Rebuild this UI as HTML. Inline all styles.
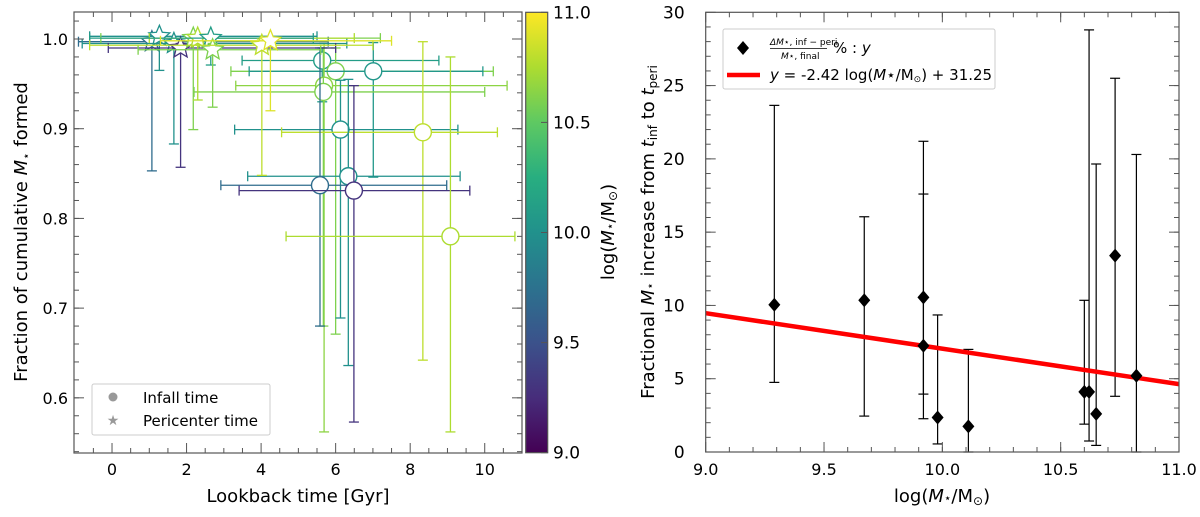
<!DOCTYPE html>
<html><head><meta charset="utf-8"><style>
html,body{margin:0;padding:0;background:#fff;}
svg{display:block;font-family:"DejaVu Sans","Liberation Sans",sans-serif;}
</style></head><body>
<svg id="fig" width="1200" height="517" viewBox="0 0 1200 517" xmlns="http://www.w3.org/2000/svg">
<defs>
<linearGradient id="vir" x1="0" y1="1" x2="0" y2="0">
<stop offset="0" stop-color="#440154"/><stop offset="0.125" stop-color="#472d7b"/><stop offset="0.25" stop-color="#3b528b"/><stop offset="0.375" stop-color="#2c728e"/><stop offset="0.5" stop-color="#21918c"/><stop offset="0.625" stop-color="#28ae80"/><stop offset="0.75" stop-color="#5ec962"/><stop offset="0.875" stop-color="#addc30"/><stop offset="1" stop-color="#fde725"/>
</linearGradient>
</defs>
<g id="left"></g>
<g id="cbar"></g>
<g id="right"></g>
</svg>
<script>
// ---- Left panel data ----
const infallT = [5.64, 6.0, 7.01, 5.69, 5.67, 6.13, 8.34, 6.34, 5.58, 6.49, 9.08];
const infallF = [0.976, 0.964, 0.964, 0.948, 0.941, 0.899, 0.896, 0.847, 0.837, 0.831, 0.780];
const infallTlo = [3.49, 3.19, 3.68, 3.32, 2.2, 3.29, 4.55, 3.64, 2.92, 3.41, 4.67];
const infallThi = [8.77, 10.23, 9.95, 10.6, 10.0, 9.28, 10.34, 9.34, 8.98, 9.6, 10.81];
const infallFlo = [0.93, 0.671, 0.846, 0.562, 0.68, 0.689, 0.642, 0.636, 0.680, 0.573, 0.562];
const infallFhi = [0.99, 0.99, 0.996, 0.995, 0.99, 0.954, 0.997, 0.955, 0.99, 0.948, 0.980];
const infallM = [10.1, 10.6, 10.05, 10.65, 10.6, 10.0, 10.8, 10.0, 9.7, 9.3, 10.75];

const periT = [1.07, 1.27, 1.66, 1.84, 2.18, 2.3, 2.65, 2.70, 4.02, 4.25];
const periF = [0.997, 1.003, 0.995, 0.990, 1.001, 1.001, 1.001, 0.988, 0.993, 0.998];
const periTlo = [-0.9, -0.6, -0.8, -0.1, -0.3, 1.0, -0.6, 0.7, -0.6, 1.3];
const periThi = [5.8, 5.5, 6.3, 6.0, 7.2, 6.5, 5.4, 5.6, 7.0, 7.5];
const periFlo = [0.853, 0.965, 0.883, 0.857, 0.899, 0.932, 0.971, 0.924, 0.848, 0.92];
const periFhi = [1.0, 1.0, 1.0, 0.995, 1.0, 1.0, 1.0, 0.995, 1.0, 1.0];
const periM = [9.7, 10.0, 10.0, 9.3, 10.6, 10.75, 10.1, 10.6, 10.8, 10.9];

const leftXTicks = [0, 2, 4, 6, 8, 10];
const leftYTicks = [0.6, 0.7, 0.8, 0.9, 1.0];
const cbarTicks = [9.0, 9.5, 10.0, 10.5, 11.0];

// ---- Right panel data ----
const massX = [9.29, 9.67, 9.92, 9.92, 9.98, 10.11, 10.60, 10.62, 10.65, 10.73, 10.82];
const fracY = [10.05, 10.35, 10.55, 7.25, 2.35, 1.75, 4.1, 4.1, 2.6, 13.4, 5.2];
const fracLo = [4.75, 2.45, 2.27, 3.95, 0.55, 0.0, 1.9, 0.75, 0.45, 3.8, 0.0];
const fracHi = [23.65, 16.05, 21.2, 17.6, 9.35, 7.0, 10.35, 28.8, 19.65, 25.5, 20.3];
const fitSlope = -2.42, fitIntercept = 31.25;
const rightXTicks = [9.0, 9.5, 10.0, 10.5, 11.0];
const rightYTicks = [0, 5, 10, 15, 20, 25, 30];

const NS = "http://www.w3.org/2000/svg";
function mk(tag, attrs, parent){const e=document.createElementNS(NS,tag);for(const k in attrs)e.setAttribute(k,attrs[k]);parent.appendChild(e);return e;}
const vstops=[[68,1,84],[71,45,123],[59,82,139],[44,114,142],[33,145,140],[40,174,128],[94,201,98],[173,220,48],[253,231,37]];
function viridis(m){let t=Math.max(0,Math.min(1,(m-9)/2))*8;let i=Math.min(7,Math.floor(t));let f=t-i;const a=vstops[i],b=vstops[i+1];return `rgb(${[0,1,2].map(j=>Math.round(a[j]+(b[j]-a[j])*f)).join(',')})`;}

// ---- Left axes ----
const L={x0:74,x1:522,y0:12,y1:453,xmin:-1.02,xmax:11.0,ymin:0.5385,ymax:1.0301};
const lx=v=>L.x0+(v-L.xmin)/(L.xmax-L.xmin)*(L.x1-L.x0);
const ly=v=>L.y1-(v-L.ymin)/(L.ymax-L.ymin)*(L.y1-L.y0);
const lg=document.getElementById('left');
function starPath(cx,cy,r){let p='';for(let i=0;i<10;i++){const a=-Math.PI/2+i*Math.PI/5;const rr=i%2?r*0.45:r;p+=(i?'L':'M')+(cx+rr*Math.cos(a)).toFixed(1)+','+(cy+rr*Math.sin(a)).toFixed(1);}return p+'Z';}
function errbar(g,x,y,xlo,xhi,ylo,yhi,col,cap){
  mk('line',{x1:xlo,y1:y,x2:xhi,y2:y,stroke:col,'stroke-width':1.3},g);
  mk('line',{x1:x,y1:ylo,x2:x,y2:yhi,stroke:col,'stroke-width':1.3},g);
  mk('line',{x1:xlo,y1:y-cap,x2:xlo,y2:y+cap,stroke:col,'stroke-width':1.3},g);
  mk('line',{x1:xhi,y1:y-cap,x2:xhi,y2:y+cap,stroke:col,'stroke-width':1.3},g);
  mk('line',{x1:x-cap,y1:ylo,x2:x+cap,y2:ylo,stroke:col,'stroke-width':1.3},g);
  mk('line',{x1:x-cap,y1:yhi,x2:x+cap,y2:yhi,stroke:col,'stroke-width':1.3},g);
}
for(let i=0;i<infallT.length;i++){
  const g=mk('g',{},lg);
  
  
  const c=viridis(infallM[i]);
  errbar(g,lx(infallT[i]),ly(infallF[i]),lx(infallTlo[i]),lx(infallThi[i]),ly(infallFlo[i]),ly(infallFhi[i]),c,5);
  mk('circle',{cx:lx(infallT[i]),cy:ly(infallF[i]),r:8.5,fill:'#fff',stroke:c,'stroke-width':1.4},g);
}
for(let i=0;i<periT.length;i++){
  const g=mk('g',{},lg);
  
  
  const c=viridis(periM[i]);
  errbar(g,lx(periT[i]),ly(periF[i]),lx(periTlo[i]),lx(periThi[i]),ly(periFlo[i]),ly(periFhi[i]),c,5);
  mk('path',{d:starPath(lx(periT[i]),ly(periF[i]),11),fill:'#fff',stroke:c,'stroke-width':1.3},g);
}
function axesFrame(g,x0,y0,x1,y1){mk('rect',{x:x0,y:y0,width:x1-x0,height:y1-y0,fill:'none',stroke:'#555','stroke-width':1.2},g);}
function ticks(g,xs,ys,fx,fy,box,len){
  xs.forEach(v=>{const x=fx(v);mk('line',{x1:x,y1:box.y1,x2:x,y2:box.y1-len,stroke:'#555','stroke-width':1},g);mk('line',{x1:x,y1:box.y0,x2:x,y2:box.y0+len,stroke:'#555','stroke-width':1},g);});
  ys.forEach(v=>{const y=fy(v);mk('line',{x1:box.x0,y1:y,x2:box.x0+len,y2:y,stroke:'#555','stroke-width':1},g);mk('line',{x1:box.x1,y1:y,x2:box.x1-len,y2:y,stroke:'#555','stroke-width':1},g);});
}
axesFrame(lg,L.x0,L.y0,L.x1,L.y1);
{const mx=[],my=[];for(let v=-0.5;v<=11;v+=0.5)if(Math.abs(v%2)>0.01)mx.push(v);for(let v=0.54;v<=1.03;v+=0.02)my.push(v);
ticks(lg,mx,my,lx,ly,L,5);ticks(lg,leftXTicks,leftYTicks,lx,ly,L,10);}
leftXTicks.forEach(v=>{const t=mk('text',{x:lx(v),y:475,'text-anchor':'middle','font-size':16,fill:'#000'},lg);t.textContent=v;});
leftYTicks.forEach(v=>{const t=mk('text',{x:L.x0-6,y:ly(v)+6,'text-anchor':'end','font-size':16,fill:'#000'},lg);t.textContent=v.toFixed(1);});
</script>
<script>
(function(){
const lg=document.getElementById('left');
lg.insertAdjacentHTML('beforeend',`
<text x="298" y="502" text-anchor="middle" font-size="18">Lookback time [Gyr]</text>
<text transform="translate(27,232) rotate(-90)" text-anchor="middle" font-size="18">Fraction of cumulative <tspan font-style="italic">M</tspan><tspan font-size="12" dy="3">⋆</tspan><tspan dy="-3"> formed</tspan></text>
<g>
<rect x="92" y="384" width="178" height="51" rx="2" fill="#fff" stroke="#ccc"/>
<circle cx="113" cy="397" r="4.5" fill="#999"/>
<text x="143" y="403" font-size="15">Infall time</text>
<text x="113" y="425" text-anchor="middle" font-size="14" fill="#999">★</text>
<text x="143" y="426" font-size="15">Pericenter time</text>
</g>`);
})();
(function(){
const g=document.getElementById('cbar');
const cy=v=>452.7-(v-9)/2*(452.7-12.3);
mk('rect',{x:525.7,y:12.3,width:22,height:440.4,fill:'url(#vir)',stroke:'#555','stroke-width':1.2},g);
cbarTicks.forEach(v=>{mk('line',{x1:547.7,y1:cy(v),x2:541,y2:cy(v),stroke:'#555'},g);
 const t=mk('text',{x:553,y:cy(v)+6,'font-size':17},g);t.textContent=v.toFixed(1);
 
 });
g.insertAdjacentHTML('beforeend',`<text transform="translate(614,232) rotate(-90)" text-anchor="middle" font-size="18">log(<tspan font-style="italic">M</tspan><tspan font-size="12">⋆</tspan>/M<tspan font-size="12" dy="3">⊙</tspan><tspan dy="-3">)</tspan></text>`);
})();
(function(){
const R={x0:705.7,x1:1179,y0:12.3,y1:452,xmin:9,xmax:11,ymin:0,ymax:30};
const rx=v=>R.x0+(v-R.xmin)/(R.xmax-R.xmin)*(R.x1-R.x0);
const ry=v=>R.y1-(v-R.ymin)/(R.ymax-R.ymin)*(R.y1-R.y0);
const g=document.getElementById('right');
for(let i=0;i<massX.length;i++){
 const e=mk('g',{},g);
 
 
 const x=rx(massX[i]);
 mk('line',{x1:x,y1:ry(fracLo[i]),x2:x,y2:ry(fracHi[i]),stroke:'#000','stroke-width':1.2},e);
 mk('line',{x1:x-5,y1:ry(fracLo[i]),x2:x+5,y2:ry(fracLo[i]),stroke:'#000','stroke-width':1.2},e);
 mk('line',{x1:x-5,y1:ry(fracHi[i]),x2:x+5,y2:ry(fracHi[i]),stroke:'#000','stroke-width':1.2},e);
}
const fl=mk('line',{x1:rx(9),y1:ry(fitSlope*9+fitIntercept),x2:rx(11),y2:ry(fitSlope*11+fitIntercept),stroke:'#ff0000','stroke-width':4.5},g);


for(let i=0;i<massX.length;i++){
 const x=rx(massX[i]),y=ry(fracY[i]);
 const d=mk('path',{d:`M${x},${y-7}L${x+6},${y}L${x},${y+7}L${x-6},${y}Z`,fill:'#000'},g);
 
 
}
mk('rect',{x:R.x0,y:R.y0,width:R.x1-R.x0,height:R.y1-R.y0,fill:'none',stroke:'#555','stroke-width':1.2},g);
const mx=[],my=[];for(let v=9.1;v<11;v+=0.1)mx.push(v);for(let v=1;v<30;v++)my.push(v);
ticks(g,mx,my,rx,ry,R,5);ticks(g,rightXTicks,rightYTicks,rx,ry,R,10);
rightXTicks.forEach(v=>{const t=mk('text',{x:rx(v),y:475,'text-anchor':'middle','font-size':16},g);t.textContent=v.toFixed(1);
 
 });
rightYTicks.forEach(v=>{const t=mk('text',{x:R.x0-21,y:ry(v)+6,'text-anchor':'end','font-size':17},g);t.textContent=v;
 
 });
g.insertAdjacentHTML('beforeend',`
<text x="942" y="502" text-anchor="middle" font-size="18">log(<tspan font-style="italic">M</tspan><tspan font-size="12">⋆</tspan>/M<tspan font-size="12" dy="3">⊙</tspan><tspan dy="-3">)</tspan></text>
<text transform="translate(654,232) rotate(-90)" text-anchor="middle" font-size="18">Fractional <tspan font-style="italic">M</tspan><tspan font-size="12">⋆</tspan> increase from <tspan font-style="italic">t</tspan><tspan font-size="12" dy="3">inf</tspan><tspan dy="-3"> to </tspan><tspan font-style="italic">t</tspan><tspan font-size="12" dy="3">peri</tspan></text>
<g>
<rect x="723" y="29" width="272" height="60" rx="2" fill="#fff" stroke="#ccc"/>
<path d="M743,41L749,48L743,55L737,48Z" fill="#000"/>
<text x="770" y="45" font-size="9"><tspan font-style="italic">ΔM</tspan>⋆, inf − peri</text>
<line x1="770" y1="48.5" x2="827" y2="48.5" stroke="#000" stroke-width="0.8"/>
<text x="781" y="59" font-size="9"><tspan font-style="italic">M</tspan>⋆, final</text>
<text x="833" y="53" font-size="15">% : <tspan font-style="italic">y</tspan></text>
<line x1="727" y1="75" x2="760" y2="75" stroke="#ff0000" stroke-width="4.5"/>
<text x="770" y="80" font-size="15"><tspan font-style="italic">y</tspan> = -2.42 log(<tspan font-style="italic">M</tspan>⋆/M<tspan font-size="9" dy="2">⊙</tspan><tspan dy="-2">) + 31.25</tspan></text>
</g>`);
})();
</script>
</body></html>
